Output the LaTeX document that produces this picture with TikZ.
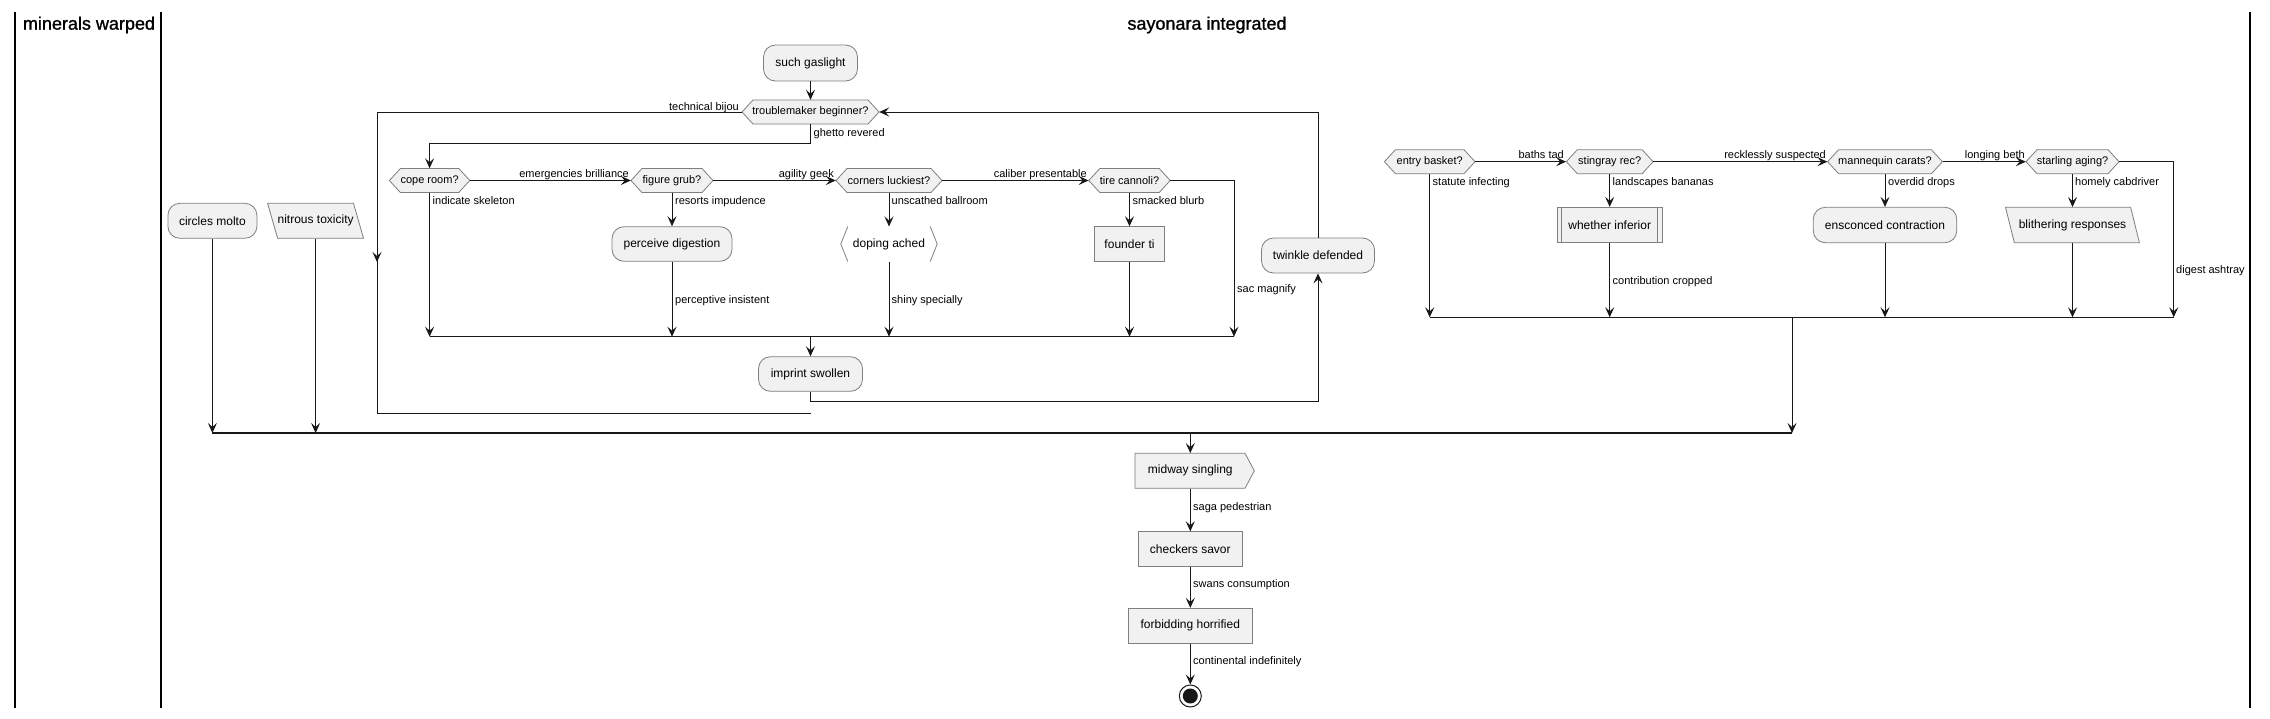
\documentclass[tikz,border=0pt]{standalone}
\usepackage{fontspec}
\setmainfont{Liberation Sans}
\newfontfamily\hdrfont[FakeBold=1.2]{Liberation Sans}
\usetikzlibrary{arrows.meta}
\definecolor{nfill}{HTML}{F1F1F1}
\definecolor{nbord}{HTML}{7F7F7F}
\definecolor{lcol}{HTML}{181818}
\tikzset{
 base/.style={inner sep=0pt, font=\fontsize{12}{14}\selectfont, text=black},
 rbox/.style={base, draw=nbord, fill=nfill, line width=0.8pt, rounded corners=12pt},
 sbox/.style={base, draw=nbord, fill=nfill, line width=0.8pt},
 plain/.style={base},
 htext/.style={inner sep=0pt, font=\fontsize{11}{13}\selectfont, text=black, minimum height=24},
 shp/.style={draw=nbord, fill=nfill, line width=0.8pt},
 outl/.style={draw=nbord, line width=0.8pt},
 lbl/.style={inner sep=0pt, font=\fontsize{11}{13}\selectfont, text=black},
 conn/.style={draw=lcol, line width=1pt},
 arr/.style={conn, -{Stealth[length=10pt,width=9pt,inset=4pt]}},
 lane/.style={draw=black, line width=1.8pt},
 hdr/.style={inner sep=0pt, font=\hdrfont\fontsize{18}{21}\selectfont, text=black},
}
% name, cx, cy, half width, text
\newcommand{\hexnode}[5]{%
 \path[shp] ({#2-#4},#3) -- ({#2-#4+11},{#3-12}) -- ({#2+#4-11},{#3-12}) -- ({#2+#4},#3) -- ({#2+#4-11},{#3+12}) -- ({#2-#4+11},{#3+12}) -- cycle;
 \node[htext, minimum width={2*#4}] (#1) at (#2,#3) {#5};
}
\begin{document}
\begin{tikzpicture}[x=1pt,y=-1pt]
\useasboundingbox (0,0) rectangle (2270,718);
\fill[white] (0,0) rectangle (2270,718);

% swimlanes
\draw[lane] (15,12) -- (15,708);
\draw[lane] (161,12) -- (161,708);
\draw[lane] (2250,12) -- (2250,708);
\node[hdr] (h1) at (89,25) {minerals warped};
\node[hdr] (h2) at (1207,25) {sayonara integrated};

% loop area
\node[rbox, minimum width=94, minimum height=36] (such) at (810.5,63) {such gaslight};
\hexnode{trouble}{810.5}{112}{68.5}{troublemaker beginner?}
\hexnode{cope}{429.6}{180.5}{40.2}{cope room?}
\hexnode{figure}{672}{180.5}{41}{figure grub?}
\hexnode{corners}{889}{180.5}{53}{corners luckiest?}
\hexnode{tire}{1129.5}{180.5}{40.7}{tire cannoli?}
\node[rbox, minimum width=120, minimum height=34.6] (perceive) at (672,244) {perceive digestion};
\node[plain, minimum width=96, minimum height=34.6] (doping) at (889,244) {doping ached};
\draw[outl] ([xshift=7pt]doping.north west) -- (doping.west) -- ([xshift=7pt]doping.south west);
\draw[outl] ([xshift=-7pt]doping.north east) -- (doping.east) -- ([xshift=-7pt]doping.south east);
\node[sbox, minimum width=70.6, minimum height=34.6] (founder) at (1129.5,244) {founder ti};
\node[rbox, minimum width=104, minimum height=34.6] (imprint) at (810.5,374) {imprint swollen};
\node[rbox, minimum width=113, minimum height=35] (twinkle) at (1318,255.5) {twinkle defended};

% left nodes
\node[rbox, minimum width=89, minimum height=35] (circles) at (212.4,220.8) {circles molto};
\path[shp] (267.6,203.3) -- (353.5,203.3) -- (363.5,238.3) -- (277.6,238.3) -- cycle;
\node[plain, minimum width=87, minimum height=35] (nitrous) at (315.6,220.8) {nitrous toxicity};

% right group
\hexnode{entry}{1429.7}{161.7}{45.3}{entry basket?}
\hexnode{sting}{1609.7}{161.7}{43.4}{stingray rec?}
\hexnode{manne}{1885}{161.7}{57.4}{mannequin carats?}
\hexnode{starl}{2072.5}{161.7}{46.5}{starling aging?}
\node[sbox, minimum width=105, minimum height=35.4] (whether) at (1609.7,225) {whether inferior};
\draw[outl] ([xshift=5pt]whether.north west) -- ([xshift=5pt]whether.south west);
\draw[outl] ([xshift=-5pt]whether.north east) -- ([xshift=-5pt]whether.south east);
\node[rbox, minimum width=143.5, minimum height=35.4] (ensc) at (1885,225) {ensconced contraction};
\path[shp] (2005.5,207.3) -- (2130.6,207.3) -- (2139.4,242.7) -- (2014.3,242.7) -- cycle;
\node[plain, minimum width=125, minimum height=35.4] (blith) at (2072.5,225) {blithering responses};

% bottom chain
\path[shp] (1135,453.3) -- (1245,453.3) -- (1254.3,470.8) -- (1245,488.3) -- (1135,488.3) -- cycle;
\node[plain, minimum width=110, minimum height=35] (midway) at (1190.3,470.8) {midway singling};
\node[sbox, minimum width=103.4, minimum height=34.6] (check) at (1190.3,549) {checkers savor};
\node[sbox, minimum width=123.4, minimum height=35] (forbid) at (1190.3,625.8) {forbidding horrified};
\node[circle, draw=lcol, line width=1pt, minimum size=22, inner sep=0pt] (endc) at (1190.3,696) {};
\fill[lcol] (endc.center) circle[radius=7.5];

% helper coordinates
\coordinate (mA) at (810.5,336.7);
\coordinate (tireR) at (1234,180.5);
\coordinate (gb) at (810.5,143.3);
\coordinate (loopL) at (377,112);
\coordinate (loopM) at (377,262);
\coordinate (loopB) at (377,413.3);
\coordinate (loopE) at (810.7,413.3);
\coordinate (twB) at (1318,401);
\coordinate (twT) at (1318,112);
\coordinate (mB) at (1792,317.3);
\coordinate (starR) at (2173.7,161.7);
\coordinate (mC) at (1190.3,433);

% loop connectors
\draw[arr] (such.south) -- (trouble.north);
\draw[arr] (trouble.south) -- (gb) -| (cope.north);
\draw[conn] (trouble.west) -- (loopL) -- (loopB) -- (loopE);
\draw[arr] (loopL) -- (loopM);
\draw[arr] (cope.east) -- (figure.west);
\draw[arr] (figure.east) -- (corners.west);
\draw[arr] (corners.east) -- (tire.west);
\draw[arr] (tire.east) -- (tireR) -- (tireR |- mA);
\draw[arr] (cope.south) -- (cope.south |- mA);
\draw[arr] (figure.south) -- (perceive.north);
\draw[arr] (perceive.south) -- (perceive.south |- mA);
\draw[arr] (corners.south) -- (doping.north);
\draw[arr] (doping.south) -- (doping.south |- mA);
\draw[arr] (tire.south) -- (founder.north);
\draw[arr] (founder.south) -- (founder.south |- mA);
\draw[conn] (cope.south |- mA) -- (tireR |- mA);
\draw[arr] (mA) -- (imprint.north);
\draw[arr] (imprint.south) -- (imprint.south |- twB) -- (twB) -- (twinkle.south);
\draw[arr] (twinkle.north) -- (twT) -- (trouble.east);

% left connectors
\draw[arr] (circles.south) -- (circles.south |- mC);
\draw[arr] (nitrous.south) -- (nitrous.south |- mC);
\draw[conn, line width=1.7pt] (circles.south |- mC) -- (mB |- mC);

% right connectors
\draw[arr] (entry.east) -- (sting.west);
\draw[arr] (sting.east) -- (manne.west);
\draw[arr] (manne.east) -- (starl.west);
\draw[arr] (starl.east) -- (starR) -- (starR |- mB);
\draw[arr] (entry.south) -- (entry.south |- mB);
\draw[arr] (sting.south) -- (whether.north);
\draw[arr] (whether.south) -- (whether.south |- mB);
\draw[arr] (manne.south) -- (ensc.north);
\draw[arr] (ensc.south) -- (ensc.south |- mB);
\draw[arr] (starl.south) -- (blith.north);
\draw[arr] (blith.south) -- (blith.south |- mB);
\draw[conn] (entry.south |- mB) -- (starR |- mB);
\draw[arr] (mB) -- (mB |- mC);

% bottom connectors
\draw[arr] (mC) -- (midway.north);
\draw[arr] (midway.south) -- (check.north);
\draw[arr] (check.south) -- (forbid.north);
\draw[arr] (forbid.south) -- (endc.north);

% labels
\node[lbl, anchor=base west] (lgr) at (813.5,136) {ghetto revered};
\node[lbl, anchor=base east] (ltb) at (739,110) {technical bijou};
\node[lbl, anchor=base east] (leb) at (629,177.5) {emergencies brilliance};
\node[lbl, anchor=base east] (lag) at (834,177.5) {agility geek};
\node[lbl, anchor=base east] (lcp) at (1087,177.5) {caliber presentable};
\node[lbl, anchor=base west] (lis) at (432.5,204) {indicate skeleton};
\node[lbl, anchor=base west] (lri) at (675,204) {resorts impudence};
\node[lbl, anchor=base west] (lub) at (891.5,204) {unscathed ballroom};
\node[lbl, anchor=base west] (lsb) at (1132.5,204) {smacked blurb};
\node[lbl, anchor=base west] (lpi) at (675,303) {perceptive insistent};
\node[lbl, anchor=base west] (lss) at (891.5,303) {shiny specially};
\node[lbl, anchor=base west] (lsm) at (1237,292) {sac magnify};
\node[lbl, anchor=base east] (lbt) at (1564,158.7) {baths tad};
\node[lbl, anchor=base east] (lrs) at (1826,158.7) {recklessly suspected};
\node[lbl, anchor=base east] (llb) at (2025,158.7) {longing beth};
\node[lbl, anchor=base west] (lsi) at (1432.5,185) {statute infecting};
\node[lbl, anchor=base west] (llbn) at (1612.5,185) {landscapes bananas};
\node[lbl, anchor=base west] (lod) at (1888,185) {overdid drops};
\node[lbl, anchor=base west] (lhc) at (2075,185) {homely cabdriver};
\node[lbl, anchor=base west] (lcc) at (1612.5,284) {contribution cropped};
\node[lbl, anchor=base west] (lda) at (2176,273.5) {digest ashtray};
\node[lbl, anchor=base west] (lsp) at (1193,510.5) {saga pedestrian};
\node[lbl, anchor=base west] (lsc) at (1193,587) {swans consumption};
\node[lbl, anchor=base west] (lci) at (1193,664.5) {continental indefinitely};
\end{tikzpicture}
\end{document}
